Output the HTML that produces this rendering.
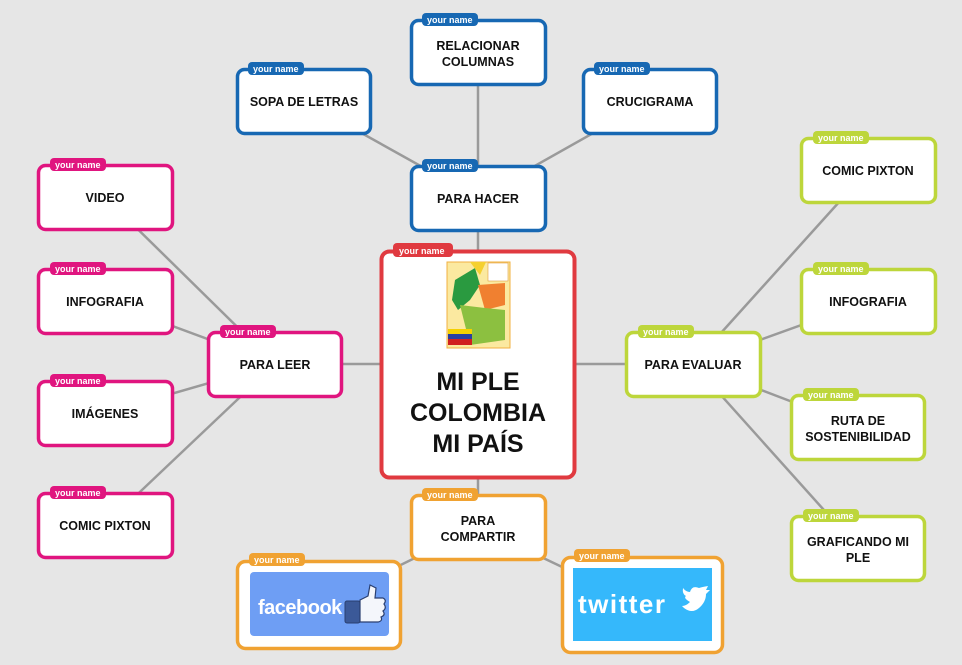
<!DOCTYPE html>
<html><head><meta charset="utf-8"><style>
html,body{margin:0;padding:0;background:#e6e6e6;}
svg{display:block}
text{font-family:"Liberation Sans","DejaVu Sans",sans-serif;font-weight:bold}
.l{stroke:#9a9a9a;stroke-width:2.5}
.t{font-size:12.5px;fill:#111;text-anchor:middle}
.tg{font-size:9px;fill:#fff}
</style></head><body>
<svg width="962" height="665" viewBox="0 0 962 665">
<rect width="962" height="665" fill="#e6e6e6"/>
<g class="l">
<line x1="478" y1="198" x2="304" y2="101"/><line x1="478" y1="198" x2="478" y2="52"/><line x1="478" y1="198" x2="650" y2="101"/><line x1="478" y1="198" x2="478" y2="300"/>
<line x1="275" y1="364" x2="105" y2="197"/><line x1="275" y1="364" x2="105" y2="301"/><line x1="275" y1="364" x2="105" y2="413"/><line x1="275" y1="364" x2="105" y2="525"/><line x1="275" y1="364" x2="420" y2="364"/>
<line x1="693" y1="364" x2="868" y2="170"/><line x1="693" y1="364" x2="868" y2="301"/><line x1="693" y1="364" x2="858" y2="427"/><line x1="693" y1="364" x2="858" y2="548"/><line x1="693" y1="364" x2="540" y2="364"/>
<line x1="478" y1="527" x2="319" y2="605"/><line x1="478" y1="527" x2="642" y2="605"/><line x1="478" y1="527" x2="478" y2="440"/>
</g>
<g stroke="#1768b3" stroke-width="3.5" fill="#fff">
<rect x="237.5" y="69.5" width="133" height="64" rx="7"/>
<rect x="411.5" y="20.5" width="134" height="64" rx="7"/>
<rect x="583.5" y="69.5" width="133" height="64" rx="7"/>
<rect x="411.5" y="166.5" width="134" height="64" rx="7"/>
</g>
<g fill="#1768b3">
<rect x="248" y="62" width="56" height="13" rx="4"/><rect x="422" y="13" width="56" height="13" rx="4"/><rect x="594" y="62" width="56" height="13" rx="4"/><rect x="422" y="159" width="56" height="13" rx="4"/>
</g>
<g stroke="#e0157f" stroke-width="3.5" fill="#fff">
<rect x="38.5" y="165.5" width="134" height="64" rx="7"/>
<rect x="38.5" y="269.5" width="134" height="64" rx="7"/>
<rect x="38.5" y="381.5" width="134" height="64" rx="7"/>
<rect x="38.5" y="493.5" width="134" height="64" rx="7"/>
<rect x="208.5" y="332.5" width="133" height="64" rx="7"/>
</g>
<g fill="#e0157f">
<rect x="50" y="158" width="56" height="13" rx="4"/><rect x="50" y="262" width="56" height="13" rx="4"/><rect x="50" y="374" width="56" height="13" rx="4"/><rect x="50" y="486" width="56" height="13" rx="4"/><rect x="220" y="325" width="56" height="13" rx="4"/>
</g>
<g stroke="#bdd63b" stroke-width="3.5" fill="#fff">
<rect x="626.5" y="332.5" width="134" height="64" rx="7"/>
<rect x="801.5" y="138.5" width="134" height="64" rx="7"/>
<rect x="801.5" y="269.5" width="134" height="64" rx="7"/>
<rect x="791.5" y="395.5" width="133" height="64" rx="7"/>
<rect x="791.5" y="516.5" width="133" height="64" rx="7"/>
</g>
<g fill="#bdd63b">
<rect x="638" y="325" width="56" height="13" rx="4"/><rect x="813" y="131" width="56" height="13" rx="4"/><rect x="813" y="262" width="56" height="13" rx="4"/><rect x="803" y="388" width="56" height="13" rx="4"/><rect x="803" y="509" width="56" height="13" rx="4"/>
</g>
<g stroke="#f0a232" stroke-width="3.5" fill="#fff">
<rect x="411.5" y="495.5" width="134" height="64" rx="7"/>
<rect x="237.5" y="561.5" width="163" height="87" rx="8"/>
<rect x="562.5" y="557.5" width="160" height="95" rx="8"/>
</g>
<g fill="#f0a232">
<rect x="422" y="488" width="56" height="13" rx="4"/><rect x="249" y="553" width="56" height="13" rx="4"/><rect x="574" y="549" width="56" height="13" rx="4"/>
</g>
<rect x="381.5" y="251.5" width="193" height="226" rx="8" fill="#fff" stroke="#e03a40" stroke-width="4"/>
<rect x="393" y="243" width="60" height="14" rx="4" fill="#e03a40"/>
<g class="tg">
<text x="253" y="72">your name</text><text x="427" y="23">your name</text><text x="599" y="72">your name</text><text x="427" y="169">your name</text>
<text x="55" y="168">your name</text><text x="55" y="272">your name</text><text x="55" y="384">your name</text><text x="55" y="496">your name</text><text x="225" y="335">your name</text>
<text x="643" y="335">your name</text><text x="818" y="141">your name</text><text x="818" y="272">your name</text><text x="808" y="398">your name</text><text x="808" y="519">your name</text>
<text x="427" y="498">your name</text><text x="254" y="563">your name</text><text x="579" y="559">your name</text>
<text x="399" y="254">your name</text>
</g>
<g class="t">
<text x="304" y="106">SOPA DE LETRAS</text>
<text x="478" y="50">RELACIONAR</text><text x="478" y="66">COLUMNAS</text>
<text x="650" y="106">CRUCIGRAMA</text>
<text x="478" y="203">PARA HACER</text>
<text x="105" y="202">VIDEO</text><text x="105" y="306">INFOGRAFIA</text><text x="105" y="418">IMÁGENES</text><text x="105" y="530">COMIC PIXTON</text>
<text x="275" y="369">PARA LEER</text>
<text x="693" y="369">PARA EVALUAR</text>
<text x="868" y="175">COMIC PIXTON</text><text x="868" y="306">INFOGRAFIA</text>
<text x="858" y="425">RUTA DE</text><text x="858" y="441">SOSTENIBILIDAD</text>
<text x="858" y="546">GRAFICANDO MI</text><text x="858" y="562">PLE</text>
<text x="478" y="525">PARA</text><text x="478" y="541">COMPARTIR</text>
</g>
<g text-anchor="middle" fill="#111">
<text x="478" y="390" style="font-size:25px">MI PLE</text>
<text x="478" y="421" style="font-size:25px">COLOMBIA</text>
<text x="478" y="452" style="font-size:25px">MI PAÍS</text>
</g>
<rect x="447" y="262" width="63" height="86" fill="#fbe9a0" stroke="#f0b040" stroke-width="1"/>
<polygon points="455,280 475,268 480,285 470,300 458,310 452,300" fill="#2a9a40"/>
<polygon points="478,285 505,283 505,305 485,310" fill="#f08030"/>
<polygon points="460,305 485,308 505,310 505,340 470,345" fill="#8cc040"/>
<polygon points="470,262 486,262 480,275" fill="#f5d030"/>
<rect x="488" y="263" width="20" height="18" fill="#fff" stroke="#e0a040" stroke-width="0.6"/>
<rect x="448" y="329" width="24" height="5" fill="#f5d000"/><rect x="448" y="334" width="24" height="5" fill="#2a3fa0"/><rect x="448" y="339" width="24" height="6" fill="#d02020"/>
<rect x="250" y="572" width="139" height="64" rx="4" fill="#6e9ef4"/>
<text x="258" y="614" fill="#fff" style="font-size:20px;letter-spacing:-0.5px">facebook</text>
<rect x="345" y="601" width="15" height="22" rx="2" fill="#3b5998" stroke="#2a3f70"/>
<path d="M360,600 L368,596 L370,585 L376,588 L375,598 L383,598 Q387,600 384,604 Q387,608 383,611 Q386,615 381,617 Q383,621 378,622 L360,622 Z" fill="#f4f6fb" stroke="#2a3f70" stroke-width="1.2"/>
<rect x="573" y="568" width="139" height="73" fill="#35b8fb"/>
<text x="578" y="613" fill="#fff" style="font-size:26px;letter-spacing:1.5px">twitter</text>
<path d="M684,608 Q692,614 699,608 Q706,602 706,594 L710,590 L706,590 L708,586 Q702,587 699,588 Q692,585 690,592 Q686,592 683,588 Q682,594 686,596 Q683,598 690,602 Q686,606 682,606 Z" fill="#fff"/>
</svg>
</body></html>
